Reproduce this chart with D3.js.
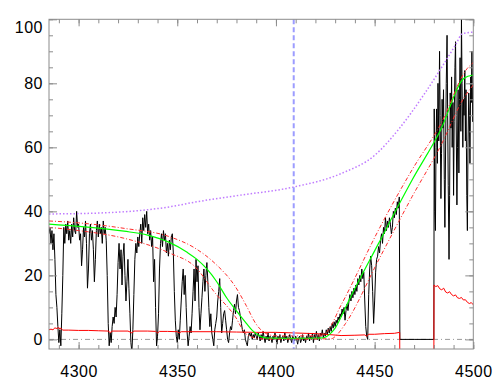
<!DOCTYPE html>
<html><head><meta charset="utf-8">
<script src="https://cdn.jsdelivr.net/npm/d3@7"></script>
<style>body{margin:0;background:#fff}svg text{font-family:"Liberation Sans",Arial,sans-serif;font-size:16px;fill:#000;letter-spacing:0.5px}</style>
</head><body>
<svg id="c" width="498" height="388"></svg>
<script>
// ---- data ----
const specWave = [
4285,4285.5,4286,4286.5,4287,4287.5,4288,4288.5,4289,4289.5,4290,4290.5,4291,4291.5,4292,4292.5,4293,4293.5,4294,4294.5,
4295,4295.5,4296,4296.5,4297,4297.5,4298,4298.5,4299,4299.5,4300,4300.5,4301,4301.5,4302,4302.5,4303,4303.5,4304,4304.5,
4305,4305.5,4306,4306.5,4307,4307.5,4308,4308.5,4309,4309.5,4310,4310.5,4311,4311.5,4312,4312.5,4313,4313.5,4314,4314.5,
4315,4315.5,4316,4316.5,4317,4317.5,4318,4318.5,4319,4319.5,4320,4320.5,4321,4321.5,4322,4322.5,4323,4323.5,4324,4324.5,
4325,4325.5,4326,4326.5,4327,4327.5,4328,4328.5,4329,4329.5,4330,4330.5,4331,4331.5,4332,4332.5,4333,4333.5,4334,4334.5,
4335,4335.5,4336,4336.5,4337,4337.5,4338,4338.5,4339,4339.5,4340,4340.5,4341,4341.5,4342,4342.5,4343,4343.5,4344,4344.5,
4345,4345.5,4346,4346.5,4347,4347.5,4348,4348.5,4349,4349.5,4350,4350.5,4351,4351.5,4352,4352.5,4353,4353.5,4354,4354.5,
4355,4355.5,4356,4356.5,4357,4357.5,4358,4358.5,4359,4359.5,4360,4360.5,4361,4361.5,4362,4362.5,4363,4363.5,4364,4364.5,
4365,4365.5,4366,4366.5,4367,4367.5,4368,4368.5,4369,4369.5,4370,4370.5,4371,4371.5,4372,4372.5,4373,4373.5,4374,4374.5,
4375,4375.5,4376,4376.5,4377,4377.5,4378,4378.5,4379,4379.5,4380,4380.5,4381,4381.5,4382,4382.5,4383,4383.5,4384,4384.5,
4385,4385.5,4386,4386.5,4387,4387.5,
4388,4388.5,4389,4389.5,4390,4390.5,4391,4391.5,4392,4392.5,4393,4393.5,4394,4394.5,4395,4395.5,4396,4396.5,4397,4397.5,
4398,4398.5,4399,4399.5,4400,4400.5,4401,4401.5,4402,4402.5,4403,4403.5,4404,4404.5,4405,4405.5,4406,4406.5,4407,4407.5,
4408,4408.5,4409,4409.5,4410,4410.5,4411,4411.5,4412,4412.5,4413,4413.5,4414,4414.5,4415,4415.5,4416,4416.5,4417,4417.5,
4418,4418.5,4419,4419.5,4420,4420.5,4421,4421.5,4422,4422.5,4423,4423.5,4424,4424.5,4425,4425.5,4426,4426.5,4427,4427.5,
4428,4428.5,4429,4429.5,4430,4430.5,4431,4431.5,4432,4432.5,4433,4433.5,4434,4434.5,4435,4435.5,4436,4436.5,4437,4437.5,
4438,4438.5,4439,4439.5,4440,4440.5,4441,4441.5,4442,4442.5,4443,4443.5,4444,4444.5,4445,4445.5,4446,4446.5,4447,4447.5,
4448,4448.5,4449,4449.5,4450,4450.5,4451,4451.5,4452,4452.5,4453,4453.5,4454,4454.5,4455,4455.5,4456,4456.5,4457,4457.5,
4458,4458.5,4459,4459.5,4460,4460.5,4461,4461.5,4462,4462.5,
4462.8,4470,4480,
4480.2,4480.5,4480.8,4481.1,4481.4,4481.8,4482.1,4482.5,4482.9,4483.2,4483.6,4483.9,4484.2,4484.6,4484.9,4485.3,4485.6,4486,4486.3,4486.7,
4487,4487.3,4487.7,4488,4488.3,4488.7,4489,4489.3,4489.7,4490,4490.3,4490.7,4491,4491.3,4491.7,4492,4492.3,4492.7,4493,4493.3,
4493.7,4494,4494.3,4494.7,4495,4495.3,4495.7,4496,4496.3,4496.7,4497,4497.3,4497.7,4498,4498.3,4498.7,4499,4499.3,4499.7,4500];
const specFlux = [
33,35,30,34,28,33,25,14,10,4,-1,3,-2,8,20,35,30,36,33,37,
31,34,30,36,32,38,34,33,40,35,36,31,33,23,28,35,32,37,30,16,
22,33,36,31,34,28,18,25,34,37,32,36,33,35,30,37,33,35,31,20,
5,-2,2,-1,4,7,5,10,7,14,24,30,22,28,17,26,30,20,12,18,
25,16,8,-1,-4,3,14,25,30,27,32,29,33,36,30,38,34,39,35,40,
33,36,31,34,29,32,18,25,10,-2,1,8,22,30,33,29,34,31,33,27,
30,26,31,28,32,33,27,15,6,1,-1,3,0,6,12,18,22,14,20,10,
2,-2,1,4,2,8,15,22,12,25,18,23,10,3,8,13,18,22,15,20,
24,18,10,4,8,2,0,-2,3,5,7,12,15,19,10,2,5,8,9,6,
3,0,-1,2,4,3,6,9,11,8,12,14,10,9,7,5,3,2,3,0,
-1,-2,1,2,1,2,
0,1.5,0.5,2,1,0,2,1,-0.5,1.5,0,2.5,0.5,-1,1,0,2,-0.5,1,0.5,
-1,1,0,2,0.5,-1.5,1,0,1.5,-1,0.5,1,-0.5,2,0,1,-1,0.5,1.5,0,
-1,1,0.5,-0.5,1,0,-1.5,0.5,1,-1,0,1.5,-0.5,0.5,-1,1,0,2,-0.5,1,
0,2,-1,1.5,0.5,2.5,0,1.5,-0.5,2,1,3,0.5,2,1,3,1.5,3.5,2,4,
2.5,5,3.5,5.5,4,6,5,7,6,8,7,9.5,8,10,6,9,11,9,12,14,
12,15,13,16,14,17,15,19,17,20,18,22,19,21,12,4,1,0,14,22,
26,23,15,5,12,21,25,26,29,27,31,33,30,35,33,38,34,37,35,38,
36,33,35,40,38,41,39,43,41,44.5,
0,0,0,
72,40,34,60,72,55,80,62,90,70,44,58,75,66,78,50,35,62,80,95,
70,48,25,45,77,66,82,60,74,45,68,85,93,70,42,60,78,52,75,88,
65,100,80,60,75,70,84,62,78,45,34,60,77,70,55,82,74,90,68,80];

const errWave = [4285,4286,4287,4288,4289,4290,4290.5,4291,4292,4295,4300,4305,4310,4315,4316,4317,4320,4325,4326.5,4327,
4328,4335,4339,4340,4341,4345,4350,4351,4352,4360,4370,4380,4390,4400,4410,4420,4425,4433,4440,4445,
4446,4447,4450,4455,4460,4462.7,4462.8,4480,4480.1,4481,4482,4483,4484,4485,4486,4487,4488,4489,4490,4491,
4492,4493,4494,4495,4496,4497,4498,4499,4500];
const errFlux = [3.0,3.2,3.0,3.6,3.4,3.7,3.2,3.5,2.9,2.9,2.8,2.8,2.7,2.6,2.1,2.6,2.6,2.6,2.2,2.0,
2.6,2.6,2.5,2.0,2.5,2.5,2.4,2.0,2.4,2.4,2.4,2.3,2.2,2.2,2.0,1.8,1.6,1.2,1.3,1.4,
1.0,1.6,1.6,1.8,1.9,2.2,-10,-10,17,16.5,16.8,15.8,15.5,16,14.8,14.5,14.9,14,13.6,13.9,
13,12.8,13.1,12.3,12.4,11.6,11.2,11.5,10.8];

const fitWave = [4285,4300,4323,4335,4346,4355,4360,4365,4370,4375,4380,4385,4388,4392,4396,4410,4424,4427,4430,4433,4436,4452,4469,4483.5,4495.3,4500];
const fitFlux = [36,35.3,33.8,32.6,30.3,27.2,25,22,18,13,8.9,5,2.8,1,0.4,0.3,0.5,1.5,3.5,7,10.9,30,49.8,65.5,81.6,82.6];

const upWave = [4285,4300,4323,4346,4359,4369,4379.4,4385,4389.6,4394.7,4400,4422,4426,4429,4432,4435.3,4452,4469,4483.5,4497,4500];
const upFlux = [37,36.4,34.7,32.1,28.5,23.8,16.5,10.5,5.1,1.9,1.1,1.1,2.5,5.5,9.5,13.4,34.2,53,67.3,84.7,86.5];

const loWave = [4285,4300,4323,4346,4359,4369.3,4379.4,4384.5,4390,4395,4428,4431,4435.3,4452,4469,4483.5,4495.3,4500];
const loFlux = [35,34,31.6,27,22.7,14.4,7.1,1.9,0.4,0.1,0.2,1.5,5,24.8,44.6,60.5,75.5,79.5];

const purWave = [4285,4300,4315,4330,4346,4360,4380,4409,4433,4450,4462,4475,4485,4491,4494.5,4500];
const purFlux = [39.2,39.3,39.6,40.2,41.4,43,44.9,47.6,51.8,57.5,65.5,76.5,86,92,95.5,96];

const markerWave = [4409];

const xMajor = [4300,4350,4400,4450,4500];
const xMinor = [4290,4300,4310,4320,4330,4340,4350,4360,4370,4380,4390,4400,4410,4420,4430,4440,4450,4460,4470,4480,4490,4500];
const yMajor = [0,20,40,60,80,100];
const yMinor = [0,5,10,15,20,25,30,35,40,45,50,55,60,65,70,75,80,85,90,95,100];

// ---- layout ----
const L = 49, R = 473.3, T = 19.3, B = 349;
const x = d3.scaleLinear().domain([4285, 4500]).range([L, R]);
const y = d3.scaleLinear().domain([-3, 100]).range([B, T]);
const axisCol = "#8c8c8c";

const svg = d3.select("#c");
svg.append("defs").append("clipPath").attr("id", "clip")
  .append("rect").attr("x", L).attr("y", T).attr("width", R - L).attr("height", B - T);
const g = svg.append("g").attr("clip-path", "url(#clip)");

function path(ws, vs, curve) {
  return d3.line().x((d, i) => x(ws[i])).y(d => y(d)).curve(curve || d3.curveLinear)(vs);
}

// zero reference line
g.append("line").attr("x1", x(4285)).attr("x2", x(4500)).attr("y1", y(0)).attr("y2", y(0))
  .attr("stroke", "#9a9a9a").attr("stroke-width", 1).attr("stroke-dasharray", "5,3,1,3");

// spectrum
g.append("path").attr("d", path(specWave, specFlux)).attr("fill", "none")
  .attr("stroke", "#000").attr("stroke-width", 1);

// error
g.append("path").attr("d", path(errWave, errFlux)).attr("fill", "none")
  .attr("stroke", "#ff0000").attr("stroke-width", 1);

// fit
g.append("path").attr("d", path(fitWave, fitFlux, d3.curveMonotoneX)).attr("fill", "none")
  .attr("stroke", "#00ff00").attr("stroke-width", 1.2);

// envelopes
[[upWave, upFlux], [loWave, loFlux]].forEach(([w, v]) => {
  g.append("path").attr("d", path(w, v, d3.curveMonotoneX)).attr("fill", "none")
    .attr("stroke", "#ff2a2a").attr("stroke-width", 1).attr("stroke-dasharray", "4,2,1,2");
});

// continuum (purple dotted)
g.append("path").attr("d", path(purWave, purFlux, d3.curveMonotoneX)).attr("fill", "none")
  .attr("stroke", "#c07cff").attr("stroke-width", 1.5).attr("stroke-dasharray", "1.5,2");

// marker line
markerWave.forEach(w => {
  g.append("line").attr("x1", x(w)).attr("x2", x(w)).attr("y1", y(100)).attr("y2", y(-3))
    .attr("stroke", "#9c9cff").attr("stroke-width", 2).attr("stroke-dasharray", "5,3");
});

// ---- axes ----
function styleAxis(sel) {
  sel.select(".domain").remove();
  sel.selectAll(".tick line").attr("stroke", axisCol);
}
svg.append("g").attr("transform", `translate(0,${B})`)
  .call(d3.axisBottom(x).tickValues(xMinor).tickSizeInner(-4).tickSizeOuter(0).tickFormat("")).call(styleAxis);
svg.append("g").attr("transform", `translate(0,${B})`)
  .call(d3.axisBottom(x).tickValues(xMajor).tickSizeInner(-7).tickSizeOuter(0).tickPadding(17).tickFormat(d3.format("d")))
  .call(styleAxis).call(s => s.selectAll("text").attr("font-size", null).attr("font-family", null));
svg.append("g").attr("transform", `translate(0,${T})`)
  .call(d3.axisTop(x).tickValues(xMinor).tickSizeInner(-4).tickSizeOuter(0).tickFormat("")).call(styleAxis);
svg.append("g").attr("transform", `translate(0,${T})`)
  .call(d3.axisTop(x).tickValues(xMajor).tickSizeInner(-7).tickSizeOuter(0).tickFormat("")).call(styleAxis);

svg.append("g").attr("transform", `translate(${L},0)`)
  .call(d3.axisLeft(y).tickValues(yMinor).tickSizeInner(-4).tickSizeOuter(0).tickFormat("")).call(styleAxis);
const yl = svg.append("g").attr("transform", `translate(${L},0)`)
  .call(d3.axisLeft(y).tickValues(yMajor).tickSizeInner(-8).tickSizeOuter(0).tickPadding(6).tickFormat(d3.format("d")))
  .call(styleAxis).call(s => s.selectAll("text").attr("font-size", null).attr("font-family", null));
yl.selectAll(".tick").filter(d => d === 100).select("text").attr("dy", "0.85em");
svg.append("g").attr("transform", `translate(${R},0)`)
  .call(d3.axisRight(y).tickValues(yMinor).tickSizeInner(-4).tickSizeOuter(0).tickFormat("")).call(styleAxis);
svg.append("g").attr("transform", `translate(${R},0)`)
  .call(d3.axisRight(y).tickValues(yMajor).tickSizeInner(-8).tickSizeOuter(0).tickFormat("")).call(styleAxis);

svg.append("rect").attr("x", L).attr("y", T).attr("width", R - L).attr("height", B - T)
  .attr("fill", "none").attr("stroke", axisCol).attr("stroke-width", 1);
</script>
</body></html>
